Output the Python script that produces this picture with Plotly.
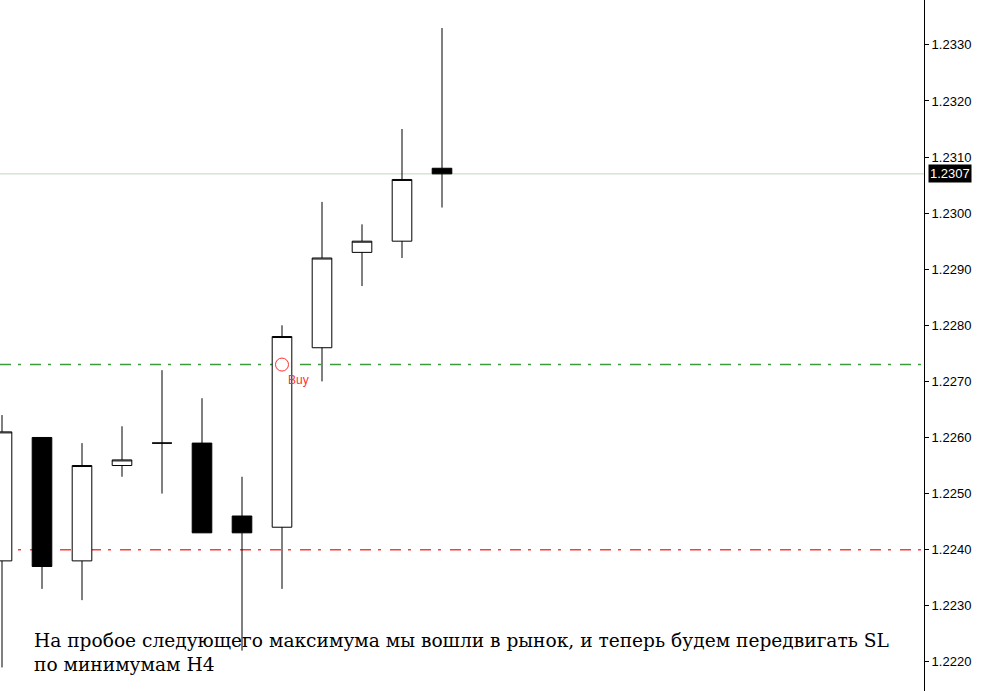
import plotly.graph_objects as go

# H4 bars, left to right
bars = list(range(12))
opens = [1.2238, 1.2260, 1.2238, 1.2255, 1.2259, 1.2259, 1.2246, 1.2244, 1.2276, 1.2293, 1.2295, 1.2308]
highs = [1.2264, 1.2260, 1.2259, 1.2262, 1.2272, 1.2267, 1.2253, 1.2280, 1.2302, 1.2298, 1.2315, 1.2333]
lows = [1.2219, 1.2233, 1.2231, 1.2253, 1.2250, 1.2243, 1.2222, 1.2233, 1.2270, 1.2287, 1.2292, 1.2301]
closes = [1.2261, 1.2237, 1.2255, 1.2256, 1.2259, 1.2243, 1.2243, 1.2278, 1.2292, 1.2295, 1.2306, 1.2307]

last_price = 1.2307
entry_level = 1.2273
stop_level = 1.2240
buy_bar = 7

note = ("На пробое следующего максимума мы вошли в рынок, и теперь будем передвигать SL"
        "<br>по минимумам H4")

fig = go.Figure()

fig.add_trace(go.Candlestick(
    x=bars, open=opens, high=highs, low=lows, close=closes,
    increasing=dict(line=dict(color="black", width=1), fillcolor="white"),
    decreasing=dict(line=dict(color="black", width=1), fillcolor="black"),
    whiskerwidth=0,
    hoverinfo="skip",
    showlegend=False,
))

# buy marker
fig.add_trace(go.Scatter(
    x=[buy_bar], y=[entry_level], mode="markers",
    marker=dict(symbol="circle-open", size=13, color="#ff3030", line=dict(width=1)),
    hoverinfo="skip", showlegend=False,
))

# levels: last price, entry, stop
fig.add_shape(type="line", xref="paper", x0=0, x1=1, y0=last_price, y1=last_price,
              line=dict(color="#bcd8bc", width=1), layer="below")
fig.add_shape(type="line", xref="paper", x0=0, x1=1, y0=entry_level, y1=entry_level,
              line=dict(color="#3a9c3a", width=1.5, dash="11px,7px,3px,9px"), layer="below")
fig.add_shape(type="line", xref="paper", x0=0, x1=1, y0=stop_level, y1=stop_level,
              line=dict(color="#ff3a3a", width=1.5, dash="11px,7px,3px,9px"), layer="below")

fig.add_annotation(x=buy_bar, y=entry_level, text="Buy", showarrow=False,
                   xanchor="left", yanchor="middle", xshift=4, yshift=-15,
                   font=dict(family="Liberation Sans", size=12, color="#ff3030"))

fig.add_annotation(xref="paper", x=1, y=last_price, text=f"{last_price:.4f}", showarrow=False,
                   xanchor="left", yanchor="middle", xshift=4,
                   bgcolor="black", borderpad=1,
                   font=dict(family="Liberation Sans", size=13, color="white"))

fig.add_annotation(xref="paper", yref="paper", x=0.0345, y=0.056, text=note, showarrow=False,
                   xanchor="left", yanchor="middle", align="left",
                   font=dict(family="DejaVu Serif", size=18.6, color="black"))

fig.update_layout(
    width=985, height=691,
    margin=dict(l=0, r=61, t=0, b=0),
    paper_bgcolor="white", plot_bgcolor="white",
    xaxis=dict(range=[-0.05, 23.05], visible=False, rangeslider=dict(visible=False), fixedrange=True),
    yaxis=dict(
        side="right", range=[1.22148, 1.23380], dtick=0.001, tickformat=".4f",
        showgrid=False, zeroline=False, showline=True, linecolor="black", linewidth=1,
        ticks="outside", ticklen=4, tickcolor="black",
        tickfont=dict(family="Liberation Sans", size=13, color="black"),
    ),
)

# drop the default page margin so the chart fills the window
fig.write_html("out.html", config={"displayModeBar": False},
               post_script="document.body.style.margin='0';")
